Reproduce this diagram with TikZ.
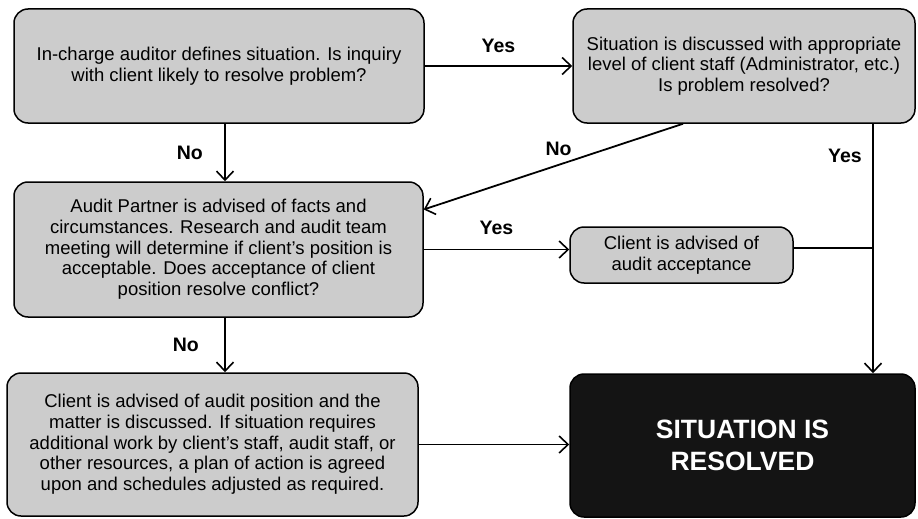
\documentclass[tikz,border=0pt]{standalone}
\usepackage{fontspec}
\setmainfont{Liberation Sans}
\usetikzlibrary{arrows.meta}

\begin{document}
\begin{tikzpicture}[x=1pt,y=-1pt,
        box/.style={draw,line width=1.5pt,rounded corners=14pt,fill=black!20,align=center,inner sep=0pt,font=\fontsize{18.5}{20.7}\selectfont},
        endbox/.style={box,fill=black!92,text=white,font=\bfseries\fontsize{26.5}{32}\selectfont},
        arr/.style={line width=1.8pt,-{Straight Barb[length=9pt,width=17pt,line width=1.6pt]}},
        lbl/.style={font=\bfseries\fontsize{19.5}{22}\selectfont}]
            \useasboundingbox (0,0) rectangle (918,519);
            \node [box,minimum width=410pt,minimum height=114pt] (inq) at (219,66)
                {In-charge auditor defines situation. Is inquiry\\with client likely to resolve problem?};
            \node [box,minimum width=342pt,minimum height=114pt] (disc) at (744,66)
                {Situation is discussed with appropriate\\level of client staff (Administrator, etc.)\\Is problem resolved?};
            \node [box,minimum width=409pt,minimum height=135pt] (partner) at (218.5,249.5)
                {Audit Partner is advised of facts and\\circumstances. Research and audit team\\meeting will determine if client's position is\\acceptable. Does acceptance of client\\position resolve conflict?};
            \node [box,minimum width=223pt,minimum height=56pt] (accept) at (681.5,255)
                {Client is advised of\\audit acceptance};
            \node [box,minimum width=411pt,minimum height=143pt] (cplan) at (212.5,444.5)
                {Client is advised of audit position and the\\matter is discussed. If situation requires\\additional work by client's staff, audit staff, or\\other resources, a plan of action is agreed\\upon and schedules adjusted as required.};
            \node [endbox,minimum width=345pt,minimum height=143pt] (res) at (742.5,445.5)
                {SITUATION IS\\RESOLVED};
            \coordinate (bs) at ([xshift=129pt]disc.south);
            \draw [arr] (inq.east) -- node [lbl,above=9pt] {Yes} (inq.east -| disc.west);
            \draw [arr] ([xshift=6pt]inq.south) -- node [lbl,left=18pt] {No} ([xshift=6pt]inq.south |- partner.north);
            \draw [arr] ([xshift=-61pt]disc.south) -- node [lbl,pos=0.48,above=5pt] {No} ([yshift=40pt]partner.east);
            \draw [arr] (bs) -- node [lbl,pos=0.13,left=7pt] {Yes} (bs |- res.north);
            \draw [arr] (partner.east) -- node [lbl,above=11pt] {Yes} (partner.east -| accept.west);
            \draw [line width=1.4pt] ([yshift=7pt]accept.east) -- ([yshift=7pt]accept.east -| bs);
            \draw [arr] ([xshift=6.5pt]partner.south) -- node [lbl,left=22pt] {No} ([xshift=6.5pt]partner.south |- cplan.north);
            \draw [arr] (cplan.east) -- (cplan.east -| res.west);
        \end{tikzpicture}
\end{document}
